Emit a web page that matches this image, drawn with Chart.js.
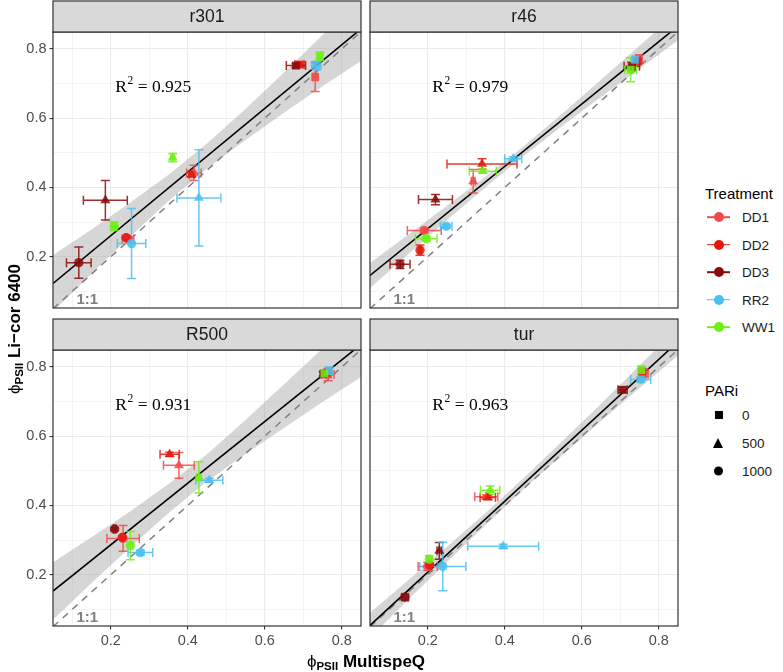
<!DOCTYPE html>
<html>
<head>
<meta charset="utf-8">
<script src="https://cdn.jsdelivr.net/npm/chart.js@4.4.1/dist/chart.umd.min.js"></script>
<style>
  body { margin: 0; background: #fff; font-family: 'Liberation Sans', Arial, sans-serif; }
  #wrap { position: relative; width: 783px; height: 672px; overflow: hidden; }
  canvas { position: absolute; }
  .abs { position: absolute; white-space: nowrap; }
  .axt { font-size: 17px; font-weight: bold; color: #000; }
  .axt .phi { font-weight: normal; }
  .axt sub { font-size: 11.5px; vertical-align: -3px; }
  .lgt { font-size: 15px; color: #000; }
  .lgl { font-size: 13.5px; color: #1A1A1A; }
</style>
</head>
<body>
<div id="wrap">
  <canvas id="p0" width="365" height="310" style="left:0;top:0"></canvas>
  <canvas id="p1" width="317" height="310" style="left:365px;top:0"></canvas>
  <canvas id="p2" width="365" height="338" style="left:0;top:318px"></canvas>
  <canvas id="p3" width="317" height="338" style="left:365px;top:318px"></canvas>
  <div class="abs axt" style="left:15px;top:329px;transform:translate(-50%,-50%) rotate(-90deg)"><span class="phi">ϕ</span><sub>PSII</sub> Li−cor 6400</div>
  <div class="abs axt" style="left:366px;top:662px;transform:translate(-50%,-50%)"><span class="phi">ϕ</span><sub>PSII</sub> MultispeQ</div>
  <div id="legend"></div>
</div>
<script>
// Groups and styles
const treatments = ['DD1', 'DD2', 'DD3', 'RR2', 'WW1'];
const treatmentColors = ['#EF4B4A', '#E4170F', '#8B0A0A', '#4ABFEE', '#6FEE17'];
const pariLevels = ['0', '500', '1000'];
const pariShapes = ['rect', 'triangle', 'circle'];
const pariRadius = [5.6, 5.8, 4.7];

const panelNames = ['r301', 'r46', 'R500', 'tur'];
const r2Values = ['0.925', '0.979', '0.931', '0.963'];
const gridTicks = [0.1, 0.2, 0.3, 0.4, 0.5, 0.6, 0.7, 0.8];
const xLimits = [0.05, 0.85];
const yLimits = [0.052, 0.849];
const oneToOne = [0.05, 0.85];
const fitX = [0.05, 0.85];
const bandX = [0.05, 0.15, 0.25, 0.35, 0.45, 0.55, 0.65, 0.75, 0.85];
const r2Pos = [0.212, 0.676];
const oneLabelPos = [0.111, 0.064];

// order of 15 points: PARi 0 (DD1..WW1), PARi 500 (DD1..WW1), PARi 1000 (DD1..WW1)
// r301
const r301X    = [0.731, 0.690, 0.681, 0.734, 0.743, 0.416, 0.410, 0.186, 0.429, 0.361, 0.245, 0.240, 0.117, 0.254, 0.209];
const r301Y    = [0.719, 0.755, 0.752, 0.752, 0.779, 0.442, 0.438, 0.363, 0.370, 0.486, 0.252, 0.255, 0.183, 0.238, 0.288];
const r301XErr = [0.006, 0.012, 0.025, 0.012, 0.005, 0.019, 0.006, 0.057, 0.057, 0.005, 0.015, 0.003, 0.032, 0.037, 0.005];
const r301YErr = [0.042, 0.006, 0.006, 0.012, 0.012, 0.022, 0.008, 0.057, 0.139, 0.012, 0.006, 0.003, 0.045, 0.101, 0.012];
const r301Fit   = [0.123, 0.858];
const r301Upper = [0.205, 0.279, 0.356, 0.437, 0.527, 0.627, 0.732, 0.840, 0.951];
const r301Lower = [0.041, 0.151, 0.258, 0.361, 0.455, 0.537, 0.616, 0.692, 0.765];

// r46
const r46X    = [0.749, 0.745, 0.730, 0.738, 0.727, 0.318, 0.341, 0.220, 0.422, 0.343, 0.191, 0.180, 0.128, 0.248, 0.196];
const r46Y    = [0.771, 0.764, 0.750, 0.769, 0.740, 0.418, 0.468, 0.365, 0.483, 0.447, 0.276, 0.219, 0.178, 0.288, 0.252];
const r46XErr = [0.005, 0.005, 0.020, 0.005, 0.015, 0.005, 0.091, 0.044, 0.022, 0.035, 0.044, 0.004, 0.026, 0.015, 0.028];
const r46YErr = [0.012, 0.005, 0.012, 0.005, 0.035, 0.034, 0.015, 0.015, 0.006, 0.006, 0.006, 0.015, 0.012, 0.006, 0.006];
const r46Fit   = [0.146, 0.866];
const r46Upper = [0.182, 0.264, 0.347, 0.431, 0.520, 0.614, 0.711, 0.809, 0.907];
const r46Lower = [0.110, 0.208, 0.306, 0.401, 0.492, 0.578, 0.661, 0.743, 0.825];

// R500
const R500X    = [0.765, 0.760, 0.752, 0.768, 0.755, 0.377, 0.353, null, 0.456, 0.429, 0.232, 0.230, 0.210, 0.277, 0.251];
const R500Y    = [0.778, 0.782, 0.780, 0.788, 0.781, 0.516, 0.548, null, 0.473, 0.481, 0.305, 0.308, 0.332, 0.264, 0.284];
const R500XErr = [0.015, 0.005, 0.006, 0.005, 0.006, 0.040, 0.025, null, 0.035, 0.006, 0.042, 0.003, 0.003, 0.032, 0.006];
const R500YErr = [0.018, 0.005, 0.006, 0.012, 0.010, 0.037, 0.006, null, 0.006, 0.045, 0.037, 0.003, 0.004, 0.006, 0.041];
const R500Fit   = [0.153, 0.865];
const R500Upper = [0.236, 0.308, 0.383, 0.462, 0.548, 0.647, 0.750, 0.853, 0.959];
const R500Lower = [0.070, 0.176, 0.279, 0.378, 0.470, 0.549, 0.624, 0.699, 0.771];

// tur
const turX    = [0.761, 0.757, 0.706, 0.753, 0.755, 0.352, 0.356, 0.230, 0.396, 0.362, 0.200, 0.205, 0.141, 0.239, 0.204];
const turY    = [0.782, 0.787, 0.734, 0.764, 0.791, 0.425, 0.423, 0.269, 0.282, 0.444, 0.224, 0.228, 0.135, 0.224, 0.245];
const turXErr = [0.012, 0.005, 0.012, 0.026, 0.006, 0.030, 0.020, 0.006, 0.092, 0.025, 0.025, 0.003, 0.008, 0.060, 0.006];
const turYErr = [0.012, 0.005, 0.008, 0.006, 0.012, 0.006, 0.006, 0.024, 0.006, 0.012, 0.012, 0.003, 0.008, 0.070, 0.010];
const turFit   = [0.054, 0.873];
const turUpper = [0.090, 0.185, 0.281, 0.378, 0.480, 0.586, 0.694, 0.804, 0.913];
const turLower = [0.018, 0.129, 0.237, 0.344, 0.448, 0.546, 0.644, 0.739, 0.833];

const panelData = [
    { x: r301X, y: r301Y, xErr: r301XErr, yErr: r301YErr, fit: r301Fit, upper: r301Upper, lower: r301Lower },
    { x: r46X, y: r46Y, xErr: r46XErr, yErr: r46YErr, fit: r46Fit, upper: r46Upper, lower: r46Lower },
    { x: R500X, y: R500Y, xErr: R500XErr, yErr: R500YErr, fit: R500Fit, upper: R500Upper, lower: R500Lower },
    { x: turX, y: turY, xErr: turXErr, yErr: turYErr, fit: turFit, upper: turUpper, lower: turLower }
];

const panelLayout = [
    { id: 'p0', axw: 53, axh: 0, padBottom: 2, showY: true, showX: false },
    { id: 'p1', axw: 5, axh: 0, padBottom: 2, showY: false, showX: false },
    { id: 'p2', axw: 53, axh: 30, padBottom: 0, showY: true, showX: true },
    { id: 'p3', axw: 5, axh: 30, padBottom: 0, showY: false, showX: true }
];

Chart.defaults.font.family = "'Liberation Sans', Arial, sans-serif";

function withAlpha(hex, a) {
    const n = parseInt(hex.slice(1), 16);
    return 'rgba(' + (n >> 16) + ',' + ((n >> 8) & 255) + ',' + (n & 255) + ',' + a + ')';
}

function isMajor(v) {
    return Math.round(v * 10) % 2 === 0;
}

// error bars under the points
const errorBars = {
    id: 'errorBars',
    beforeDatasetDraw(chart, args) {
        if (args.index !== 0) return;
        const ds = chart.data.datasets[0];
        const xs = chart.scales.x, ys = chart.scales.y;
        const ctx = chart.ctx, area = chart.chartArea;
        const cap = 4.5;
        ctx.save();
        ctx.beginPath();
        ctx.rect(area.left, area.top, area.right - area.left, area.bottom - area.top);
        ctx.clip();
        ctx.lineWidth = 1.5;
        ds.data.forEach((pt, k) => {
            ctx.strokeStyle = ds.barColor[k];
            const cx = xs.getPixelForValue(pt.x), cy = ys.getPixelForValue(pt.y);
            const x0 = xs.getPixelForValue(pt.x - ds.errX[k]), x1 = xs.getPixelForValue(pt.x + ds.errX[k]);
            const y0 = ys.getPixelForValue(pt.y - ds.errY[k]), y1 = ys.getPixelForValue(pt.y + ds.errY[k]);
            ctx.beginPath();
            ctx.moveTo(x0, cy); ctx.lineTo(x1, cy);
            ctx.moveTo(x0, cy - cap); ctx.lineTo(x0, cy + cap);
            ctx.moveTo(x1, cy - cap); ctx.lineTo(x1, cy + cap);
            ctx.moveTo(cx, y0); ctx.lineTo(cx, y1);
            ctx.moveTo(cx - cap, y0); ctx.lineTo(cx + cap, y0);
            ctx.moveTo(cx - cap, y1); ctx.lineTo(cx + cap, y1);
            ctx.stroke();
        });
        ctx.restore();
    }
};

function facetPlugin(name, r2) {
    return {
        id: 'facet',
        afterDatasetsDraw(chart) {
            const ctx = chart.ctx, xs = chart.scales.x, ys = chart.scales.y;
            ctx.save();
            // R² label
            ctx.fillStyle = '#000';
            ctx.textBaseline = 'alphabetic';
            let x = xs.getPixelForValue(r2Pos[0]);
            const base = ys.getPixelForValue(r2Pos[1]);
            ctx.font = '17.5px "Liberation Serif", "Times New Roman", serif';
            ctx.fillText('R', x, base);
            x += ctx.measureText('R').width;
            ctx.font = '11.5px "Liberation Serif", "Times New Roman", serif';
            ctx.fillText('2', x + 0.5, base - 7.5);
            x += ctx.measureText('2').width + 0.5;
            ctx.font = '17.5px "Liberation Serif", "Times New Roman", serif';
            ctx.fillText(' = ' + r2, x, base);
            // 1:1 label
            ctx.fillStyle = '#808080';
            ctx.font = 'bold 15px "Liberation Sans", Arial, sans-serif';
            ctx.fillText('1:1', xs.getPixelForValue(oneLabelPos[0]), ys.getPixelForValue(oneLabelPos[1]));
            ctx.restore();
        },
        afterDraw(chart) {
            const ctx = chart.ctx, a = chart.chartArea;
            ctx.save();
            ctx.strokeStyle = '#333333';
            ctx.lineWidth = 1.2;
            ctx.strokeRect(a.left, a.top, a.right - a.left, a.bottom - a.top);
            // strip
            ctx.fillStyle = '#D9D9D9';
            ctx.fillRect(a.left, a.top - 31, a.right - a.left, 31);
            ctx.strokeRect(a.left, a.top - 31, a.right - a.left, 31);
            ctx.fillStyle = '#1A1A1A';
            ctx.font = '17.5px "Liberation Sans", Arial, sans-serif';
            ctx.textAlign = 'center';
            ctx.textBaseline = 'middle';
            ctx.fillText(name, (a.left + a.right) / 2, a.top - 15);
            ctx.restore();
        }
    };
}

function buildChart(i) {
    const p = panelData[i], L = panelLayout[i];
    const pts = [], bg = [], styles = [], radii = [], errX = [], errY = [], barColor = [];
    p.x.forEach((xv, k) => {
        if (xv === null) return;
        const col = treatmentColors[k % 5];
        const s = Math.floor(k / 5);
        pts.push({ x: xv, y: p.y[k] });
        bg.push(withAlpha(col, 0.85));
        barColor.push(withAlpha(col, 0.85));
        styles.push(pariShapes[s]);
        radii.push(pariRadius[s]);
        errX.push(p.xErr[k]);
        errY.push(p.yErr[k]);
    });

    const fitLine = fitX.map((v, k) => ({ x: v, y: p.fit[k] }));
    const diag = oneToOne.map(v => ({ x: v, y: v }));
    const upper = bandX.map((v, k) => ({ x: v, y: p.upper[k] }));
    const lower = bandX.map((v, k) => ({ x: v, y: p.lower[k] }));

    const axisOpts = (show) => ({
        type: 'linear',
        border: { display: false },
        grid: {
            color: '#EBEBEB',
            lineWidth: c => (c.tick && isMajor(c.tick.value)) ? 1.1 : 0.55,
            drawTicks: show,
            tickLength: 3.5,
            tickWidth: 1.1,
            tickColor: c => (c.tick && isMajor(c.tick.value)) ? '#333333' : 'rgba(0,0,0,0)'
        },
        ticks: {
            display: show,
            padding: 3,
            color: '#4D4D4D',
            font: { size: 14.5 },
            autoSkip: false,
            maxRotation: 0,
            callback: v => isMajor(v) ? v.toFixed(1) : ''
        },
        afterBuildTicks: s => { s.ticks = gridTicks.map(v => ({ value: v })); }
    });

    const xAxis = axisOpts(L.showX);
    xAxis.min = xLimits[0];
    xAxis.max = xLimits[1];
    xAxis.afterFit = s => { s.height = L.axh; s.paddingLeft = 0; s.paddingRight = 0; };
    const yAxis = axisOpts(L.showY);
    yAxis.min = yLimits[0];
    yAxis.max = yLimits[1];
    yAxis.afterFit = s => { s.width = L.axw; s.paddingTop = 0; s.paddingBottom = 0; };

    return new Chart(document.getElementById(L.id), {
        type: 'scatter',
        data: {
            datasets: [
                {
                    data: pts,
                    order: 0,
                    backgroundColor: bg,
                    pointStyle: styles,
                    pointRadius: radii,
                    pointBorderWidth: 0,
                    borderColor: 'rgba(0,0,0,0)',
                    errX: errX,
                    errY: errY,
                    barColor: barColor
                },
                {
                    type: 'line',
                    data: fitLine,
                    order: 1,
                    borderColor: '#000000',
                    borderWidth: 1.6,
                    pointRadius: 0,
                    fill: false,
                    clip: 0
                },
                {
                    type: 'line',
                    data: diag,
                    order: 2,
                    borderColor: '#808080',
                    borderWidth: 1.5,
                    borderDash: [7, 6],
                    pointRadius: 0,
                    fill: false,
                    clip: 0
                },
                {
                    type: 'line',
                    data: upper,
                    order: 3,
                    borderColor: 'rgba(0,0,0,0)',
                    borderWidth: 0,
                    pointRadius: 0,
                    backgroundColor: 'rgba(153,153,153,0.4)',
                    fill: '+1',
                    clip: 0
                },
                {
                    type: 'line',
                    data: lower,
                    order: 4,
                    borderColor: 'rgba(0,0,0,0)',
                    borderWidth: 0,
                    pointRadius: 0,
                    fill: false,
                    clip: 0
                }
            ]
        },
        options: {
            responsive: false,
            animation: false,
            events: [],
            layout: {
                autoPadding: false,
                padding: { top: 32, right: 4, bottom: L.padBottom, left: 0 }
            },
            plugins: {
                legend: { display: false },
                tooltip: { enabled: false }
            },
            scales: { x: xAxis, y: yAxis }
        },
        plugins: [errorBars, facetPlugin(panelNames[i], r2Values[i])]
    });
}

panelLayout.forEach((L, i) => buildChart(i));

// Legend (HTML)
const legend = document.getElementById('legend');
function addEl(html, cls, left, cy, extra) {
    const d = document.createElement('div');
    d.className = 'abs ' + (cls || '');
    d.style.left = left + 'px';
    d.style.top = cy + 'px';
    d.style.transform = 'translateY(-50%)';
    if (extra) Object.assign(d.style, extra);
    d.innerHTML = html;
    legend.appendChild(d);
    return d;
}
const keyX = 718.5;
addEl('Treatment', 'lgt', 705, 193);
treatments.forEach((t, k) => {
    const cy = 217 + k * 27.5;
    addEl('', '', 707, cy, { width: '23px', height: '1.6px', background: treatmentColors[k] });
    addEl('', '', keyX - 5, cy, { width: '10px', height: '10px', borderRadius: '50%', background: treatmentColors[k] });
    addEl(t, 'lgl', 742, cy);
});
addEl('PARi', 'lgt', 705, 390);
pariLevels.forEach((lv, k) => {
    const cy = 415 + k * 28;
    if (pariShapes[k] === 'rect') {
        addEl('', '', keyX - 4, cy, { width: '8px', height: '8px', background: '#000' });
    } else if (pariShapes[k] === 'triangle') {
        addEl('', '', keyX - 5.5, cy, { width: '0', height: '0', borderLeft: '5.5px solid transparent', borderRight: '5.5px solid transparent', borderBottom: '10px solid #000' });
    } else {
        addEl('', '', keyX - 4.5, cy, { width: '9px', height: '9px', borderRadius: '50%', background: '#000' });
    }
    addEl(lv, 'lgl', 742, cy);
});
</script>
</body>
</html>
